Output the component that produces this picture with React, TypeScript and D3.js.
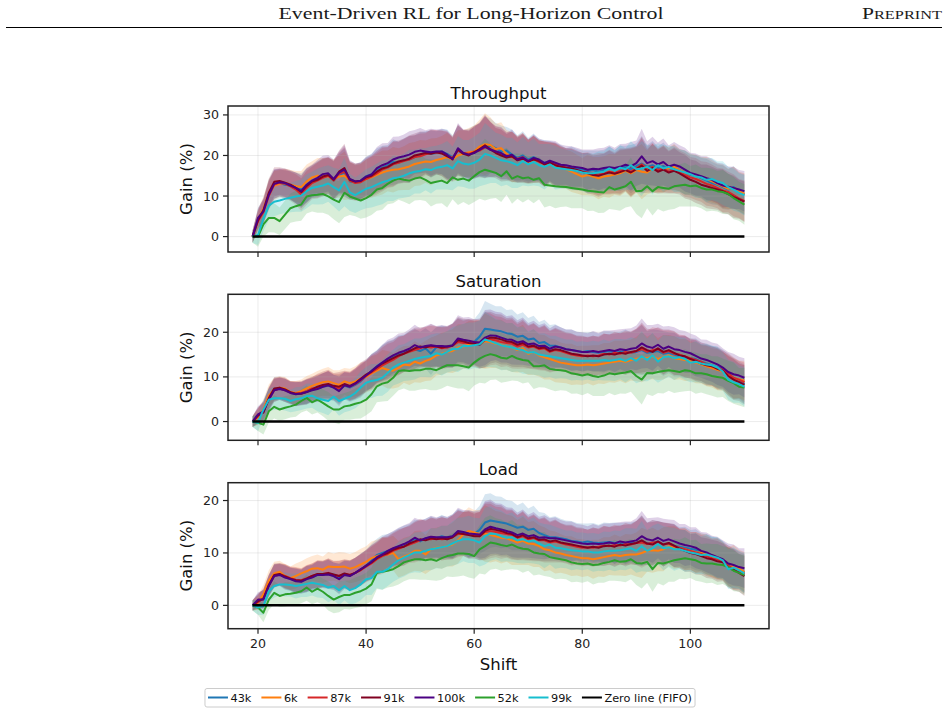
import React, { useEffect, useRef } from 'react';
import * as d3 from 'd3';

// shift index shared by every curve
const shifts = d3.range(19, 111);

const runLabels = ['43k', '6k', '87k', '91k', '100k', '52k', '99k'];
const runColors = ['#1f77b4', '#ff7f0e', '#d62728', '#800020', '#4b0082', '#2ca02c', '#17becf'];

// ---- Throughput gain (%) ----
const tp43k = [0, 4.4, 6.4, 10.5, 12.9, 13.2, 12.8, 12.6, 12.0, 11.6,
  12.6, 13.5, 14.2, 14.6, 15.0, 13.8, 15.2, 15.8, 13.6, 13.4,
  13.8, 14.9, 15.4, 16.6, 17.0, 17.6, 18.4, 18.2, 18.8, 19.0,
  19.6, 20.2, 20.8, 20.4, 20.6, 21.0, 20.4, 19.6, 21.2, 20.4,
  20.6, 21.0, 21.4, 22.0, 22.4, 21.8, 21.0, 21.2, 20.2, 19.4,
  20.0, 19.0, 19.6, 18.8, 18.2, 18.6, 17.8, 17.6, 17.0, 17.2,
  16.8, 16.6, 16.2, 16.4, 16.0, 16.4, 16.8, 16.4, 16.8, 17.2,
  16.6, 17.4, 18.0, 17.2, 17.6, 16.8, 17.4, 16.6, 17.0, 16.4,
  15.8, 15.2, 15.0, 14.4, 13.8, 13.2, 12.8, 12.2, 11.6, 12.2,
  11.0, 10.4];
const tp6k = [0, 4.2, 6.8, 10.6, 12.6, 13.0, 13.2, 12.8, 12.4, 12.2,
  13.6, 14.6, 15.0, 14.8, 14.9, 14.2, 14.8, 15.0, 13.8, 13.5,
  13.6, 14.2, 14.6, 15.2, 15.8, 16.2, 16.5, 16.6, 16.9, 17.3,
  17.9, 18.2, 18.5, 18.4, 18.9, 19.2, 19.6, 19.0, 20.0, 20.4,
  20.8, 21.0, 22.2, 22.8, 22.6, 21.6, 21.8, 20.4, 19.6, 19.0,
  19.4, 18.4, 19.0, 18.6, 17.8, 18.2, 17.5, 17.0, 16.6, 16.0,
  15.4, 14.8, 15.2, 14.8, 14.4, 14.8, 15.0, 15.3, 15.6, 16.2,
  15.6, 16.4, 16.0, 15.8, 16.8, 16.2, 16.6, 16.8, 17.2, 16.4,
  15.8, 15.4, 15.0, 14.6, 14.2, 13.6, 13.0, 12.4, 11.8, 12.0,
  11.2, 10.6];
const tp87k = [0, 3.8, 6.0, 10.0, 12.8, 13.3, 13.0, 12.4, 11.6, 10.4,
  12.0, 13.2, 13.8, 14.5, 15.0, 13.8, 15.5, 16.0, 13.8, 13.2,
  13.4, 14.2, 14.8, 15.6, 16.5, 17.0, 17.8, 18.2, 18.6, 19.0,
  19.6, 19.8, 20.3, 20.6, 20.8, 20.6, 20.0, 19.4, 21.2, 20.6,
  20.4, 20.9, 21.2, 22.0, 21.6, 21.0, 20.4, 20.0, 19.6, 19.2,
  19.6, 18.6, 19.2, 18.4, 18.0, 18.4, 17.8, 17.4, 17.0, 16.6,
  16.2, 16.0, 15.8, 15.5, 15.4, 15.6, 16.0, 15.8, 16.2, 16.6,
  16.0, 16.8, 17.8, 16.8, 17.2, 16.4, 16.8, 16.0, 16.4, 16.0,
  15.2, 14.6, 14.2, 13.6, 13.0, 12.6, 12.0, 11.4, 11.0, 10.2,
  9.4, 8.8];
const tp91k = [0, 4.0, 6.5, 10.8, 13.5, 13.7, 13.3, 12.8, 12.0, 11.0,
  12.5, 13.6, 14.0, 14.8, 15.2, 14.0, 16.0, 16.9, 14.0, 13.6,
  13.7, 14.6, 15.0, 16.0, 16.8, 17.2, 18.0, 18.5, 18.8, 19.2,
  20.0, 20.3, 20.6, 20.4, 20.8, 20.5, 19.8, 19.2, 21.5, 20.4,
  20.0, 20.8, 21.6, 22.5, 21.5, 20.6, 20.0, 19.5, 19.8, 18.8,
  19.2, 18.5, 19.0, 18.6, 17.8, 18.2, 17.6, 17.2, 17.0, 16.8,
  16.4, 16.0, 15.6, 15.2, 15.0, 15.4, 15.8, 15.5, 15.9, 16.4,
  15.8, 16.6, 17.5, 16.2, 16.9, 16.0, 16.5, 15.8, 16.2, 15.6,
  14.8, 14.0, 13.5, 12.8, 12.4, 12.0, 11.6, 11.2, 10.5, 9.8,
  9.2, 8.6];
const tp100k = [0, 4.6, 6.2, 10.3, 13.0, 13.4, 13.2, 12.6, 12.0, 11.2,
  12.8, 13.8, 14.5, 15.4, 15.6, 14.2, 15.8, 16.5, 14.2, 13.6,
  13.8, 14.8, 15.3, 16.9, 17.6, 18.1, 19.0, 19.5, 19.8, 20.2,
  20.9, 21.2, 21.0, 20.8, 21.0, 21.0, 20.2, 19.0, 21.8, 20.6,
  20.2, 20.6, 21.4, 22.2, 21.4, 21.0, 20.6, 19.8, 20.2, 19.0,
  19.5, 18.6, 19.4, 19.0, 18.1, 18.7, 18.2, 17.7, 17.6, 17.3,
  17.1, 16.9, 16.5, 16.7, 16.6, 16.9, 17.1, 16.9, 17.2, 17.7,
  17.3, 18.1, 19.8, 18.1, 18.6, 17.8, 18.4, 17.3, 17.7, 17.3,
  16.5, 15.7, 15.3, 14.9, 14.4, 14.0, 13.2, 12.6, 12.3, 12.0,
  11.6, 11.2];
const tp52k = [0, 0, 3.0, 4.6, 4.6, 3.8, 5.4, 7.0, 7.5, 7.9,
  9.9, 10.2, 10.3, 10.5, 9.9, 9.1, 8.5, 10.8, 9.9, 9.4,
  8.9, 9.5, 10.3, 11.6, 12.0, 13.0, 13.8, 14.3, 14.0, 13.8,
  14.3, 14.6, 14.0, 13.2, 13.5, 13.8, 13.2, 14.6, 14.0, 14.3,
  13.8, 14.9, 15.9, 16.5, 16.1, 15.7, 14.9, 16.1, 14.3, 14.9,
  14.4, 14.6, 14.0, 14.4, 12.8, 12.6, 12.4, 12.3, 12.2, 12.0,
  11.8, 11.6, 11.3, 11.2, 11.0, 10.9, 12.2, 11.6, 12.0, 12.4,
  13.5, 11.2, 11.3, 12.4, 11.2, 12.2, 12.0, 11.8, 12.4, 12.6,
  12.8, 12.4, 12.6, 12.0, 11.6, 11.6, 11.2, 11.0, 10.5, 9.5,
  8.7, 7.9];
const tp99k = [0, 0.4, 4.4, 7.6, 8.6, 8.9, 9.3, 9.6, 9.9, 10.1,
  11.2, 12.0, 12.3, 12.6, 13.1, 12.2, 11.4, 13.5, 10.9, 10.2,
  11.0, 11.8, 12.2, 12.8, 13.4, 13.8, 14.4, 14.6, 15.0, 15.6,
  16.0, 16.2, 16.6, 16.4, 17.0, 17.2, 17.6, 16.8, 18.6, 18.0,
  17.8, 18.2, 19.0, 20.4, 20.0, 19.4, 18.8, 18.6, 18.2, 17.6,
  18.6, 17.8, 18.4, 17.6, 17.2, 17.8, 17.0, 16.8, 16.6, 16.4,
  16.2, 15.8, 15.6, 15.6, 15.8, 16.0, 16.8, 16.2, 17.0, 16.6,
  17.6, 16.6, 16.8, 17.2, 16.4, 17.6, 16.8, 17.2, 16.6, 16.2,
  15.8, 15.4, 14.8, 14.6, 14.0, 14.2, 13.6, 13.2, 12.2, 11.6,
  10.8, 10.2];
const tpStd = [1.5, 2.5, 3.0, 3.5, 3.6, 3.4, 3.5, 3.6, 3.8, 4.0,
  4.2, 4.0, 4.4, 4.6, 4.5, 4.8, 5.2, 6.0, 4.6, 4.4,
  4.5, 4.8, 5.0, 5.2, 5.4, 5.0, 5.6, 5.2, 5.4, 5.8,
  5.4, 5.6, 5.2, 5.8, 5.4, 5.6, 6.0, 5.4, 6.2, 5.8,
  6.0, 6.4, 6.6, 7.6, 6.8, 6.2, 6.4, 5.8, 6.2, 5.6,
  6.0, 5.4, 5.8, 5.2, 5.6, 5.0, 5.4, 5.0, 4.8, 5.0,
  4.8, 4.6, 5.0, 4.8, 5.2, 5.0, 5.4, 5.0, 5.6, 5.2,
  6.0, 5.6, 6.8, 5.4, 6.0, 5.4, 5.8, 5.2, 5.6, 5.2,
  5.4, 5.0, 5.2, 5.0, 5.4, 5.2, 5.0, 5.4, 5.0, 5.2,
  4.8, 5.0];

// ---- Saturation gain (%) ----
const st43k = [0, 1.2, 2.4, 5.2, 7.2, 7.4, 7.0, 6.4, 6.2, 6.4,
  6.8, 7.2, 7.4, 7.8, 8.0, 7.6, 7.2, 8.0, 7.6, 8.2,
  9.0, 10.2, 11.4, 12.4, 13.2, 13.8, 14.4, 15.0, 15.4, 15.8,
  16.2, 15.8, 16.4, 15.2, 16.6, 16.8, 16.6, 17.0, 18.0, 17.8,
  17.6, 17.8, 19.0, 20.8, 20.6, 20.4, 20.2, 19.8, 19.6, 19.0,
  19.2, 18.4, 18.6, 17.6, 17.8, 17.0, 17.0, 16.6, 16.2, 16.0,
  15.8, 15.6, 15.8, 15.6, 15.4, 15.6, 15.8, 15.4, 15.6, 15.8,
  15.4, 15.6, 16.0, 15.4, 15.6, 15.8, 15.2, 15.4, 15.0, 14.6,
  14.4, 14.2, 14.0, 13.4, 13.0, 12.6, 12.2, 11.8, 10.6, 9.6,
  9.2, 8.4];
const st6k = [0, 1.0, 2.8, 5.8, 7.2, 7.6, 7.4, 6.6, 6.4, 6.8,
  7.4, 8.0, 8.4, 8.8, 9.0, 8.6, 8.2, 9.0, 8.6, 9.0,
  9.6, 10.0, 10.8, 11.4, 12.0, 11.6, 11.4, 12.0, 12.8, 12.6,
  13.4, 13.0, 13.6, 14.0, 14.8, 15.2, 15.6, 15.8, 16.6, 16.8,
  17.2, 17.6, 17.4, 18.0, 17.8, 17.4, 17.2, 16.8, 16.6, 16.0,
  16.4, 15.2, 15.6, 14.8, 14.4, 14.0, 13.6, 13.2, 13.0, 12.8,
  12.6, 12.6, 12.8, 12.6, 12.8, 13.0, 13.2, 13.4, 13.6, 13.4,
  13.8, 14.0, 14.4, 14.2, 14.6, 14.0, 14.4, 14.8, 14.2, 14.0,
  13.8, 13.6, 13.2, 12.8, 12.4, 12.0, 11.6, 11.2, 10.4, 9.6,
  9.4, 9.2];
const st87k = [0, 1.2, 2.2, 5.0, 7.0, 7.4, 7.0, 6.5, 6.3, 6.4,
  6.8, 7.4, 7.6, 7.9, 8.2, 7.8, 7.4, 8.2, 7.8, 8.4,
  9.2, 10.2, 11.0, 11.8, 12.6, 13.2, 13.8, 14.6, 15.2, 15.6,
  16.0, 16.4, 16.8, 16.6, 16.8, 16.4, 16.6, 17.0, 17.8, 17.6,
  17.6, 17.8, 17.4, 18.2, 18.4, 18.2, 17.8, 17.6, 17.4, 16.8,
  17.2, 16.6, 16.8, 16.2, 16.4, 15.6, 16.0, 15.8, 15.4, 15.0,
  14.8, 14.6, 14.8, 14.6, 14.8, 15.2, 15.0, 15.4, 15.2, 15.6,
  15.4, 15.8, 16.2, 15.6, 16.0, 16.2, 15.4, 15.8, 15.2, 15.0,
  14.6, 14.2, 13.8, 13.4, 12.8, 12.4, 12.0, 11.6, 10.8, 9.8,
  9.4, 8.8];
const st91k = [0, 1.4, 2.0, 5.2, 7.4, 7.6, 7.2, 6.6, 6.2, 6.2,
  6.6, 7.2, 7.8, 8.2, 8.4, 8.0, 7.8, 8.4, 8.0, 8.6,
  9.6, 10.5, 11.2, 12.2, 13.0, 13.6, 14.2, 14.8, 15.2, 15.8,
  16.4, 16.8, 16.6, 17.0, 16.8, 16.6, 16.8, 17.0, 18.2, 18.0,
  17.6, 17.4, 17.2, 18.4, 18.8, 18.7, 18.4, 18.0, 17.8, 17.2,
  17.6, 16.8, 17.0, 16.4, 16.6, 15.8, 16.2, 16.0, 15.6, 15.2,
  15.0, 14.8, 14.6, 14.8, 14.6, 15.0, 15.2, 15.0, 15.4, 15.2,
  15.6, 15.8, 16.6, 16.0, 15.6, 16.4, 15.6, 16.0, 15.4, 14.8,
  14.6, 14.0, 13.6, 13.0, 12.6, 12.4, 11.8, 11.4, 10.2, 9.4,
  8.8, 8.2];
const st100k = [0, 1.6, 2.3, 4.9, 7.0, 7.3, 7.0, 6.4, 6.1, 6.3,
  6.6, 7.0, 7.3, 7.8, 8.1, 7.6, 6.8, 8.1, 7.8, 8.5,
  9.4, 10.3, 11.3, 12.3, 13.2, 14.1, 14.8, 15.4, 15.8, 16.3,
  17.1, 16.6, 16.9, 17.1, 16.9, 16.9, 16.8, 17.1, 18.6, 18.3,
  18.1, 17.8, 17.7, 18.8, 19.3, 19.2, 18.8, 18.4, 18.3, 17.7,
  18.0, 17.3, 17.5, 16.9, 17.0, 16.3, 16.8, 16.6, 16.2, 16.0,
  15.8, 15.6, 15.6, 15.8, 15.6, 15.8, 16.0, 15.8, 16.2, 16.0,
  16.3, 16.5, 17.5, 16.8, 16.5, 17.2, 16.3, 16.8, 16.2, 16.0,
  15.6, 15.3, 14.7, 14.1, 13.8, 13.3, 12.8, 12.1, 11.1, 10.6,
  10.3, 9.8];
const st52k = [0, -0.3, -0.7, 2.3, 3.3, 2.7, 3.1, 3.4, 3.8, 4.6,
  5.3, 4.3, 4.9, 4.2, 3.4, 2.7, 2.7, 3.4, 3.6, 4.0,
  4.3, 4.9, 6.1, 7.9, 8.5, 8.8, 9.8, 11.3, 11.5, 11.3,
  11.5, 11.5, 11.8, 11.8, 11.5, 12.1, 12.6, 12.6, 12.6, 12.4,
  12.1, 13.2, 14.1, 14.7, 15.1, 14.8, 14.3, 14.1, 14.7, 14.1,
  13.8, 13.6, 12.4, 12.4, 12.6, 11.8, 11.6, 11.5, 11.3, 10.8,
  10.6, 10.3, 10.6, 10.2, 10.0, 10.3, 10.8, 10.6, 10.8, 11.0,
  11.3, 10.2, 9.4, 10.9, 10.8, 11.1, 11.3, 11.5, 11.3, 11.1,
  11.5, 11.3, 10.8, 10.8, 10.6, 10.2, 10.0, 9.8, 9.1, 8.6,
  7.8, 7.6];
const st99k = [0, -0.3, 2.7, 4.9, 5.2, 5.2, 5.1, 4.6, 5.0, 5.2,
  5.7, 5.8, 5.2, 4.9, 4.6, 5.6, 4.6, 5.1, 5.6, 6.4,
  7.6, 8.7, 9.1, 9.3, 9.8, 10.9, 12.1, 12.8, 13.2, 13.6,
  14.0, 14.3, 14.5, 14.7, 15.3, 15.0, 15.6, 16.2, 16.3, 16.9,
  16.9, 17.1, 17.3, 18.4, 18.0, 17.5, 17.1, 16.8, 16.6, 16.2,
  16.0, 15.4, 15.6, 15.0, 14.8, 14.6, 14.4, 14.2, 14.0, 13.8,
  13.6, 13.6, 13.6, 13.6, 13.6, 13.8, 13.6, 13.8, 14.0, 13.6,
  14.2, 13.6, 14.6, 13.8, 14.8, 13.4, 14.4, 14.6, 14.2, 14.4,
  14.0, 13.2, 13.4, 13.0, 12.8, 12.6, 12.1, 11.2, 9.4, 8.8,
  8.4, 7.8];
const stStd = [1.2, 1.8, 2.2, 2.5, 2.6, 2.5, 2.6, 2.5, 2.7, 2.6,
  2.8, 2.7, 2.9, 3.0, 3.2, 2.9, 3.3, 3.0, 3.2, 3.4,
  3.6, 3.5, 3.8, 3.6, 4.0, 4.2, 4.0, 4.3, 4.1, 4.4,
  4.6, 4.3, 4.5, 4.8, 4.5, 4.7, 4.6, 4.9, 5.2, 5.0,
  5.3, 5.1, 5.4, 6.2, 5.8, 5.4, 5.6, 5.2, 5.5, 5.0,
  5.3, 4.8, 5.1, 4.7, 5.0, 4.6, 4.8, 4.5, 4.4, 4.6,
  4.3, 4.4, 4.2, 4.5, 4.3, 4.6, 4.4, 4.7, 4.5, 4.8,
  4.6, 5.0, 5.6, 4.8, 5.1, 4.7, 5.0, 4.6, 4.9, 4.5,
  4.7, 4.4, 4.6, 4.3, 4.5, 4.4, 4.6, 4.3, 4.5, 4.6,
  4.2, 4.4];

// ---- Load gain (%) ----
const ld43k = [0, 0.8, 1.3, 3.8, 5.7, 5.9, 5.4, 5.0, 4.7, 4.6,
  5.0, 5.4, 5.8, 5.9, 6.0, 5.6, 5.2, 5.9, 5.7, 6.2,
  6.8, 7.6, 8.6, 9.6, 10.0, 10.4, 10.8, 11.2, 11.6, 12.0,
  12.6, 12.2, 12.8, 13.0, 12.8, 13.2, 12.9, 13.2, 14.0, 13.8,
  13.6, 13.6, 14.4, 15.8, 16.2, 16.0, 15.8, 15.6, 15.2, 14.8,
  15.0, 14.4, 14.6, 13.8, 13.4, 13.0, 13.0, 12.8, 12.6, 12.3,
  12.2, 12.0, 12.2, 12.0, 11.9, 12.0, 12.1, 11.9, 12.0, 11.8,
  12.0, 11.9, 12.3, 11.8, 12.0, 12.2, 11.6, 11.8, 11.4, 11.2,
  11.0, 10.8, 10.6, 10.1, 9.8, 9.4, 9.0, 8.7, 7.6, 7.0,
  6.8, 6.3];
const ld6k = [0, 0.5, 2.1, 4.7, 6.1, 6.4, 5.6, 5.2, 5.6, 6.1,
  6.5, 7.0, 7.1, 6.8, 7.4, 7.3, 7.3, 7.4, 7.0, 7.3,
  7.8, 8.3, 9.0, 9.4, 9.6, 9.7, 10.0, 8.8, 9.3, 9.7,
  10.4, 10.4, 9.7, 10.7, 11.0, 11.1, 11.3, 11.6, 12.4, 13.6,
  14.2, 13.9, 13.6, 13.7, 13.4, 13.2, 12.9, 12.8, 12.4, 12.0,
  12.3, 11.8, 11.7, 11.3, 10.7, 10.5, 10.1, 9.9, 9.6, 9.4,
  9.2, 9.0, 9.0, 8.8, 9.0, 9.2, 9.4, 9.6, 9.4, 9.6,
  9.7, 9.7, 10.0, 10.4, 10.5, 10.4, 10.7, 11.3, 11.0, 10.9,
  10.7, 10.4, 10.1, 10.1, 9.7, 9.1, 9.0, 8.5, 7.3, 7.6,
  7.0, 6.4];
const ld87k = [0, 0.6, 1.4, 3.8, 5.6, 5.9, 5.6, 5.2, 4.9, 4.8,
  5.2, 5.6, 5.9, 6.0, 6.1, 5.8, 5.6, 6.0, 5.8, 6.2,
  6.7, 7.4, 8.0, 8.8, 9.4, 9.8, 10.4, 10.8, 11.2, 11.6,
  12.0, 12.4, 12.6, 12.6, 12.8, 12.6, 12.7, 13.0, 13.6, 13.6,
  13.5, 13.4, 13.2, 14.0, 14.2, 14.0, 13.8, 13.6, 13.4, 12.9,
  13.2, 12.6, 12.8, 12.4, 12.4, 12.0, 12.2, 11.9, 11.6, 11.4,
  11.2, 11.0, 11.1, 11.0, 11.2, 11.4, 11.3, 11.5, 11.4, 11.7,
  11.6, 11.9, 12.0, 11.7, 12.0, 12.1, 11.6, 11.8, 11.3, 11.0,
  10.7, 10.4, 10.1, 9.8, 9.4, 9.0, 8.8, 8.4, 7.6, 6.9,
  6.6, 6.0];
const ld91k = [0, 0.8, 1.2, 3.9, 5.8, 6.0, 5.5, 5.1, 4.8, 4.7,
  5.1, 5.6, 6.0, 6.0, 6.2, 5.9, 5.6, 6.1, 5.8, 6.2,
  6.8, 7.6, 8.2, 9.0, 9.6, 10.0, 10.6, 11.0, 11.2, 11.8,
  12.2, 12.6, 12.4, 12.8, 12.6, 12.8, 12.6, 13.0, 13.8, 13.6,
  13.4, 13.2, 13.2, 14.2, 14.6, 14.4, 14.2, 13.8, 13.6, 13.0,
  13.4, 12.8, 13.0, 12.5, 12.6, 12.2, 12.4, 12.0, 11.8, 11.6,
  11.4, 11.2, 11.0, 11.2, 11.0, 11.3, 11.4, 11.2, 11.6, 11.4,
  11.7, 11.9, 12.4, 11.8, 11.6, 12.2, 11.6, 11.9, 11.4, 10.8,
  10.4, 10.0, 9.8, 9.4, 9.0, 8.8, 8.4, 8.2, 7.2, 6.8,
  6.2, 5.6];
const ld100k = [0, 1.1, 1.1, 3.7, 5.6, 5.8, 5.3, 5.0, 4.6, 4.5,
  5.0, 5.3, 5.8, 5.8, 5.9, 5.6, 5.0, 5.8, 5.6, 6.2,
  6.9, 7.5, 8.3, 9.2, 9.7, 10.4, 10.9, 11.3, 11.7, 12.2,
  12.9, 12.4, 12.8, 13.1, 13.0, 13.0, 13.0, 13.2, 14.2, 14.0,
  13.7, 13.6, 13.5, 14.5, 15.0, 14.7, 14.5, 14.2, 13.9, 13.4,
  13.7, 13.2, 13.4, 12.9, 13.0, 12.8, 12.8, 12.6, 12.4, 12.2,
  12.0, 11.8, 11.7, 11.8, 11.7, 11.8, 12.0, 11.8, 12.2, 12.0,
  12.2, 12.4, 13.2, 12.6, 12.4, 12.9, 12.3, 12.6, 12.2, 11.8,
  11.5, 11.3, 11.0, 10.4, 10.1, 9.6, 9.2, 8.8, 8.0, 7.7,
  7.3, 7.1];
const ld52k = [0, -0.4, -1.4, 1.1, 2.4, 1.8, 2.1, 2.2, 2.4, 2.7,
  3.4, 2.6, 3.2, 2.6, 1.8, 1.1, 1.6, 2.0, 2.0, 2.4,
  2.7, 3.2, 4.0, 6.2, 6.4, 6.6, 6.9, 7.5, 8.2, 8.5,
  8.8, 8.8, 8.6, 8.8, 8.5, 9.0, 9.4, 9.6, 9.9, 9.9,
  9.8, 9.4, 10.7, 11.3, 12.0, 11.8, 11.5, 11.3, 11.6, 11.1,
  10.8, 10.7, 10.1, 9.9, 9.8, 9.2, 9.0, 8.8, 8.6, 8.2,
  8.0, 7.9, 8.0, 7.7, 7.8, 8.1, 8.3, 8.6, 8.3, 8.4,
  8.8, 8.1, 8.0, 8.3, 6.9, 8.1, 8.0, 8.3, 8.6, 8.8,
  9.0, 8.8, 8.6, 8.1, 8.0, 8.0, 7.8, 7.7, 7.3, 6.6,
  6.2, 5.8];
const ld99k = [0, -0.4, -0.1, 2.7, 3.7, 4.0, 4.0, 3.9, 3.7, 3.9,
  4.1, 4.3, 4.1, 3.9, 3.4, 3.7, 2.9, 3.7, 2.9, 3.3,
  4.0, 5.0, 5.2, 6.4, 6.4, 6.9, 7.8, 8.6, 9.1, 9.6,
  10.1, 10.1, 10.4, 10.7, 10.9, 11.1, 11.3, 11.8, 12.3, 12.6,
  12.6, 12.4, 12.0, 13.2, 13.7, 13.6, 13.2, 12.9, 13.0, 12.4,
  12.6, 12.2, 12.4, 11.8, 11.3, 11.6, 11.0, 10.9, 10.7, 10.5,
  10.4, 10.3, 10.3, 10.1, 10.1, 10.3, 10.4, 10.4, 10.5, 10.7,
  10.9, 10.4, 11.3, 10.4, 10.9, 11.7, 10.9, 11.1, 10.7, 10.7,
  10.4, 10.1, 9.9, 9.6, 9.7, 9.4, 9.1, 8.6, 6.9, 7.2,
  6.7, 6.1];
const ldStd = [1.0, 1.4, 1.8, 2.0, 2.2, 2.1, 2.3, 2.2, 2.4, 2.3,
  2.5, 2.4, 2.6, 2.5, 2.8, 2.6, 2.9, 2.7, 2.8, 2.9,
  3.0, 3.0, 3.2, 3.1, 3.4, 3.2, 3.3, 3.5, 3.6, 3.5,
  3.8, 3.9, 3.7, 4.0, 3.8, 4.1, 3.9, 4.2, 4.4, 4.2,
  4.5, 4.3, 4.6, 5.4, 5.2, 4.8, 4.9, 4.5, 4.7, 4.3,
  4.6, 4.1, 4.4, 4.0, 4.2, 3.8, 4.0, 3.7, 3.6, 3.8,
  3.5, 3.6, 3.4, 3.7, 3.5, 3.8, 3.6, 3.9, 3.7, 4.0,
  3.8, 4.2, 4.8, 4.0, 4.3, 3.9, 4.2, 3.8, 4.1, 3.7,
  4.0, 3.6, 3.9, 3.6, 3.8, 3.7, 3.9, 3.6, 3.8, 3.9,
  3.6, 3.8];

const xTicks = [20, 40, 60, 80, 100];

const panels = [
  { title: 'Throughput', series: [tp43k, tp6k, tp87k, tp91k, tp100k, tp52k, tp99k], std: tpStd, yLim: [-3.8, 32.2], yTicks: [0, 10, 20, 30] },
  { title: 'Saturation', series: [st43k, st6k, st87k, st91k, st100k, st52k, st99k], std: stStd, yLim: [-4.2, 28.5], yTicks: [0, 10, 20] },
  { title: 'Load', series: [ld43k, ld6k, ld87k, ld91k, ld100k, ld52k, ld99k], std: ldStd, yLim: [-4.45, 23.4], yTicks: [0, 10, 20] },
];

const SANS = 'DejaVu Sans, sans-serif';

const App = () => {
  const svgRef = useRef<SVGSVGElement | null>(null);

  useEffect(() => {
    const svg = d3.select(svgRef.current);
    svg.selectAll('*').remove();

    // page header
    svg.append('text')
      .attr('x', 471).attr('y', 19)
      .attr('text-anchor', 'middle')
      .attr('font-family', 'Liberation Serif, serif')
      .attr('font-size', 17)
      .attr('textLength', 385)
      .attr('lengthAdjust', 'spacingAndGlyphs')
      .attr('fill', '#1a1a1a')
      .text('Event-Driven RL for Long-Horizon Control');
    const pre = svg.append('text')
      .attr('x', 862).attr('y', 19)
      .attr('font-family', 'Liberation Serif, serif')
      .attr('fill', '#1a1a1a')
      .attr('textLength', 80)
      .attr('lengthAdjust', 'spacingAndGlyphs');
    pre.append('tspan').attr('font-size', 16.5).text('P');
    pre.append('tspan').attr('font-size', 12.5).text('REPRINT');
    svg.append('line')
      .attr('x1', 6).attr('x2', 942).attr('y1', 27.5).attr('y2', 27.5)
      .attr('stroke', '#000').attr('stroke-width', 1);

    const left = 228;
    const right = 769;
    const plotH = 146;
    const tops = [106, 294.3, 482.7];

    const x = d3.scaleLinear().domain([14.45, 114.55]).range([left, right]);

    panels.forEach((p, pi) => {
      const top = tops[pi];
      const y = d3.scaleLinear().domain(p.yLim).range([top + plotH, top]);
      const g = svg.append('g');

      // std bands
      p.series.forEach((vals, si) => {
        const pts = vals.map((v, i) => ({ s: shifts[i], m: v, sd: p.std[i] }));
        const area = d3.area<any>()
          .x((d) => x(d.s))
          .y0((d) => y(d.m - d.sd))
          .y1((d) => y(d.m + d.sd));
        g.append('path')
          .attr('d', area(pts))
          .attr('fill', runColors[si])
          .attr('fill-opacity', 0.18)
          .attr('stroke', 'none');
      });

      // grid
      const grid = g.append('g').attr('stroke', '#b0b0b0').attr('stroke-opacity', 0.3).attr('stroke-width', 0.8);
      xTicks.forEach((t) => {
        grid.append('line').attr('x1', x(t)).attr('x2', x(t)).attr('y1', top).attr('y2', top + plotH);
      });
      p.yTicks.forEach((t) => {
        grid.append('line').attr('x1', left).attr('x2', right).attr('y1', y(t)).attr('y2', y(t));
      });

      // mean lines
      const line = d3.line<number>()
        .x((_, i) => x(shifts[i]))
        .y((d) => y(d));
      p.series.forEach((vals, si) => {
        g.append('path')
          .attr('d', line(vals))
          .attr('fill', 'none')
          .attr('stroke', runColors[si])
          .attr('stroke-width', 2)
          .attr('stroke-linejoin', 'round');
      });

      // zero line (FIFO)
      g.append('line')
        .attr('x1', x(shifts[0])).attr('x2', x(shifts[shifts.length - 1]))
        .attr('y1', y(0)).attr('y2', y(0))
        .attr('stroke', '#000').attr('stroke-width', 2.5);

      // frame
      g.append('rect')
        .attr('x', left).attr('y', top)
        .attr('width', right - left).attr('height', plotH)
        .attr('fill', 'none').attr('stroke', '#222').attr('stroke-width', 1.5);

      // y ticks
      p.yTicks.forEach((t) => {
        g.append('line').attr('x1', left - 5).attr('x2', left).attr('y1', y(t)).attr('y2', y(t))
          .attr('stroke', '#222').attr('stroke-width', 1.2);
        g.append('text')
          .attr('x', left - 9).attr('y', y(t))
          .attr('dy', '0.36em')
          .attr('text-anchor', 'end')
          .attr('font-family', SANS).attr('font-size', 12.6).attr('fill', '#222')
          .text(t);
      });

      // x ticks
      xTicks.forEach((t) => {
        g.append('line').attr('x1', x(t)).attr('x2', x(t)).attr('y1', top + plotH).attr('y2', top + plotH + 5)
          .attr('stroke', '#222').attr('stroke-width', 1.2);
        if (pi === panels.length - 1) {
          g.append('text')
            .attr('x', x(t)).attr('y', top + plotH + 19)
            .attr('text-anchor', 'middle')
            .attr('font-family', SANS).attr('font-size', 12.6).attr('fill', '#222')
            .text(t);
        }
      });

      // title and y label
      g.append('text')
        .attr('x', (left + right) / 2).attr('y', top - 7.5)
        .attr('text-anchor', 'middle')
        .attr('font-family', SANS).attr('font-size', 16.5).attr('fill', '#111')
        .text(p.title);
      g.append('text')
        .attr('transform', `translate(192,${top + plotH / 2}) rotate(-90)`)
        .attr('text-anchor', 'middle')
        .attr('font-family', SANS).attr('font-size', 16.5).attr('fill', '#111')
        .text('Gain (%)');
    });

    svg.append('text')
      .attr('x', (left + right) / 2).attr('y', 670)
      .attr('text-anchor', 'middle')
      .attr('font-family', SANS).attr('font-size', 16.5).attr('fill', '#111')
      .text('Shift');

    // legend
    const legItems = runLabels.map((l, i) => ({ label: l, color: runColors[i] }))
      .concat([{ label: 'Zero line (FIFO)', color: '#000' }]);
    const leg = svg.append('g');
    const box = leg.append('rect');
    let cx = 0;
    legItems.forEach((it) => {
      const item = leg.append('g').attr('transform', `translate(${cx},0)`);
      item.append('line').attr('x1', 0).attr('x2', 20).attr('y1', 0).attr('y2', 0)
        .attr('stroke', it.color).attr('stroke-width', 2);
      const t = item.append('text')
        .attr('x', 22.5).attr('y', 0).attr('dy', '0.36em')
        .attr('font-family', SANS).attr('font-size', 11.3).attr('fill', '#111')
        .text(it.label);
      const w = (t.node() as SVGTextElement).getComputedTextLength();
      cx += 22.5 + w + 10;
    });
    const totalW = cx - 10;
    const legLeft = 450 - totalW / 2;
    leg.attr('transform', `translate(${legLeft},697.5)`);
    box.attr('x', -3).attr('y', -9).attr('width', totalW + 6).attr('height', 18.5)
      .attr('rx', 2).attr('fill', '#fff').attr('fill-opacity', 0.8)
      .attr('stroke', '#cccccc').attr('stroke-width', 1);

    return () => {
      svg.selectAll('*').remove();
    };
  }, []);

  return (
    <svg
      ref={svgRef}
      width={948}
      height={714}
      style={{ position: 'absolute', left: 0, top: 0, background: '#fff' }}
    />
  );
};

export default App;
